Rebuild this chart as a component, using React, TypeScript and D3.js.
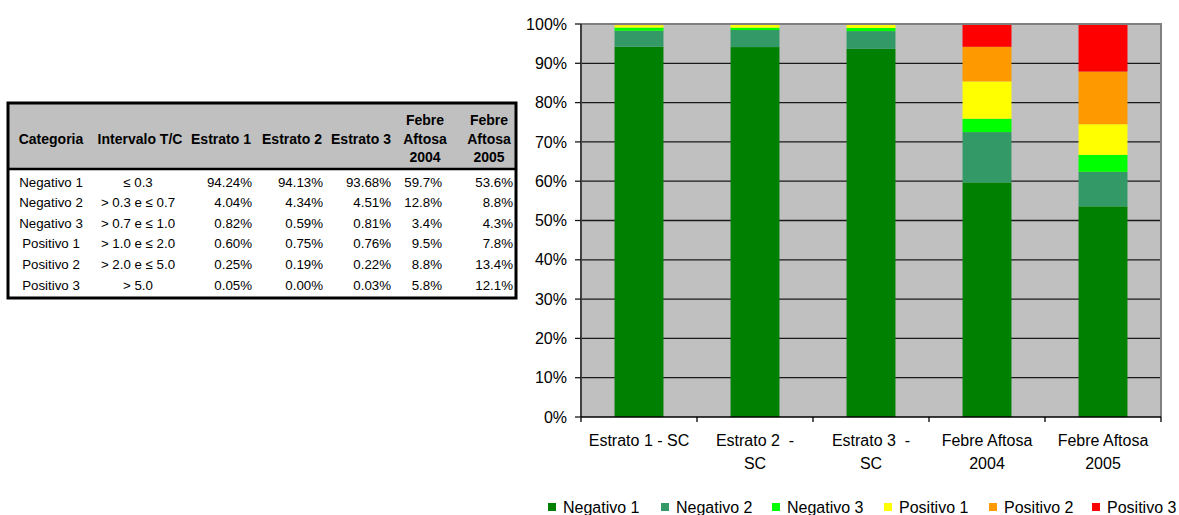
import React, { useEffect, useRef } from "react";
import * as d3 from "d3";

// ---- Data ----
const categories = ["Estrato 1 - SC", "Estrato 2 - SC", "Estrato 3 - SC", "Febre Aftosa 2004", "Febre Aftosa 2005"];
const categoryLabels: string[][] = [
  ["Estrato 1 - SC"],
  ["Estrato 2  -", "SC"],
  ["Estrato 3  -", "SC"],
  ["Febre Aftosa", "2004"],
  ["Febre Aftosa", "2005"],
];
const seriesNames = ["Negativo 1", "Negativo 2", "Negativo 3", "Positivo 1", "Positivo 2", "Positivo 3"];
const seriesColors = ["#008000", "#339966", "#00FF00", "#FFFF00", "#FF9900", "#FF0000"];
const intervals = ["≤ 0.3", "> 0.3 e ≤ 0.7", "> 0.7 e ≤ 1.0", "> 1.0 e ≤ 2.0", "> 2.0 e ≤ 5.0", "> 5.0"];

// values per series, in category order
const negativo1 = [94.24, 94.13, 93.68, 59.7, 53.6];
const negativo2 = [4.04, 4.34, 4.51, 12.8, 8.8];
const negativo3 = [0.82, 0.59, 0.81, 3.4, 4.3];
const positivo1 = [0.6, 0.75, 0.76, 9.5, 7.8];
const positivo2 = [0.25, 0.19, 0.22, 8.8, 13.4];
const positivo3 = [0.05, 0.0, 0.03, 5.8, 12.1];
const seriesValues = [negativo1, negativo2, negativo3, positivo1, positivo2, positivo3];
const decimals = [2, 2, 2, 1, 1];

const tableHeaders: string[][] = [
  ["Categoria"],
  ["Intervalo T/C"],
  ["Estrato 1"],
  ["Estrato 2"],
  ["Estrato 3"],
  ["Febre", "Aftosa", "2004"],
  ["Febre", "Aftosa", "2005"],
];
const yTicks = [0, 10, 20, 30, 40, 50, 60, 70, 80, 90, 100];

const FONT = "Arial, 'Liberation Sans', sans-serif";

export default function App() {
  const ref = useRef<SVGSVGElement | null>(null);

  useEffect(() => {
    const svg = d3.select(ref.current);
    svg.selectAll("*").remove();

    // ---------- TABLE ----------
    const t = svg.append("g");
    const tLeft = 8, tRight = 516, tTop = 103, tBottom = 298, headBottom = 169;
    t.append("rect").attr("x", tLeft).attr("y", tTop).attr("width", tRight - tLeft).attr("height", headBottom - tTop)
      .attr("fill", "#C0C0C0");
    t.append("line").attr("x1", tLeft).attr("x2", tRight).attr("y1", headBottom).attr("y2", headBottom)
      .attr("stroke", "#000").attr("stroke-width", 2.5);
    t.append("rect").attr("x", tLeft).attr("y", tTop).attr("width", tRight - tLeft).attr("height", tBottom - tTop)
      .attr("fill", "none").attr("stroke", "#000").attr("stroke-width", 3);

    const headX = [51, 140, 221, 292, 361, 425, 489];
    const dataX = [51, 138, 252, 323, 391, 442, 513];
    const dataAnchor = ["middle", "middle", "end", "end", "end", "end", "end"];

    tableHeaders.forEach((lines, i) => {
      const n = lines.length;
      lines.forEach((ln, j) => {
        const cy = 139 + (j - (n - 1) / 2) * 18.5;
        t.append("text").attr("x", headX[i]).attr("y", cy).attr("dy", "0.35em")
          .attr("text-anchor", "middle").attr("font-family", FONT).attr("font-weight", "bold")
          .attr("font-size", 14).attr("fill", "#000").text(ln);
      });
    });

    const rowY = d3.scaleLinear().domain([0, 5]).range([182, 285]);
    seriesNames.forEach((name, r) => {
      const cells = [name, intervals[r], ...seriesValues[r].map((v, c) => v.toFixed(decimals[c]) + "%")];
      cells.forEach((txt, c) => {
        t.append("text").attr("x", dataX[c]).attr("y", rowY(r)).attr("dy", "0.35em")
          .attr("text-anchor", dataAnchor[c]).attr("font-family", FONT)
          .attr("font-size", 13.3).attr("fill", "#000").text(txt);
      });
    });

    // ---------- CHART ----------
    const left = 581, right = 1161, top = 24, bottom = 417;
    const x = d3.scaleBand<string>().domain(categories).range([left, right]).paddingInner(0.578).paddingOuter(0.289);
    const y = d3.scaleLinear().domain([0, 100]).range([bottom, top]);

    const g = svg.append("g");
    g.append("rect").attr("x", left).attr("y", top).attr("width", right - left).attr("height", bottom - top)
      .attr("fill", "#C0C0C0");

    g.selectAll("line.grid").data(yTicks.filter((d) => d > 0 && d < 100)).join("line")
      .attr("x1", left).attr("x2", right).attr("y1", (d) => y(d)).attr("y2", (d) => y(d))
      .attr("stroke", "#1a1a1a").attr("stroke-width", 1.3);

    const rows = categories.map((c, i) => {
      const o: Record<string, number | string> = { cat: c };
      seriesNames.forEach((s, k) => (o[s] = seriesValues[k][i]));
      return o;
    });
    const stack = d3.stack<any>().keys(seriesNames);
    const stacked = stack(rows as any);
    stacked.forEach((layer, k) => {
      g.append("g").selectAll("rect").data(layer).join("rect")
        .attr("x", (d: any) => x(d.data.cat)!)
        .attr("width", x.bandwidth())
        .attr("y", (d: any) => y(d[1]))
        .attr("height", (d: any) => Math.max(0, y(d[0]) - y(d[1])))
        .attr("fill", seriesColors[k]);
    });

    g.append("path").attr("d", `M${left},${top}H${right}V${bottom}`)
      .attr("fill", "none").attr("stroke", "#808080").attr("stroke-width", 2);

    g.append("line").attr("x1", left).attr("x2", left).attr("y1", top).attr("y2", bottom)
      .attr("stroke", "#404040").attr("stroke-width", 2);
    yTicks.forEach((d) => {
      g.append("line").attr("x1", left - 6).attr("x2", left).attr("y1", y(d)).attr("y2", y(d))
        .attr("stroke", "#1a1a1a").attr("stroke-width", 1.3);
      g.append("text").attr("x", left - 14).attr("y", y(d)).attr("dy", "0.35em")
        .attr("text-anchor", "end").attr("font-family", FONT).attr("font-size", 16)
        .attr("fill", "#000").text(d + "%");
    });

    g.append("line").attr("x1", left).attr("x2", right).attr("y1", bottom).attr("y2", bottom)
      .attr("stroke", "#000").attr("stroke-width", 1.5);
    const xTickPos = d3.range(categories.length + 1).map((i) => left + i * x.step());
    xTickPos.forEach((p) => {
      g.append("line").attr("x1", p).attr("x2", p).attr("y1", bottom).attr("y2", bottom + 5)
        .attr("stroke", "#000").attr("stroke-width", 1.3);
    });
    categories.forEach((c, i) => {
      const cx = x(c)! + x.bandwidth() / 2;
      categoryLabels[i].forEach((ln, j) => {
        g.append("text").attr("x", cx).attr("y", 440 + j * 23).attr("dy", "0.35em")
          .attr("text-anchor", "middle").attr("font-family", FONT).attr("font-size", 16)
          .attr("fill", "#000").style("white-space", "pre").attr("xml:space", "preserve").text(ln);
      });
    });

    const legX = [548, 661, 772, 884, 989, 1092];
    const legY = 507;
    seriesNames.forEach((s, k) => {
      g.append("rect").attr("x", legX[k]).attr("y", legY - 4).attr("width", 8).attr("height", 8)
        .attr("fill", seriesColors[k]);
      g.append("text").attr("x", legX[k] + 15).attr("y", legY).attr("dy", "0.35em")
        .attr("font-family", FONT).attr("font-size", 16).attr("fill", "#000").text(s);
    });
  }, []);

  return (
    <svg ref={ref} width={1179} height={515}
      style={{ position: "absolute", left: 0, top: 0, background: "#fff", display: "block" }} />
  );
}
